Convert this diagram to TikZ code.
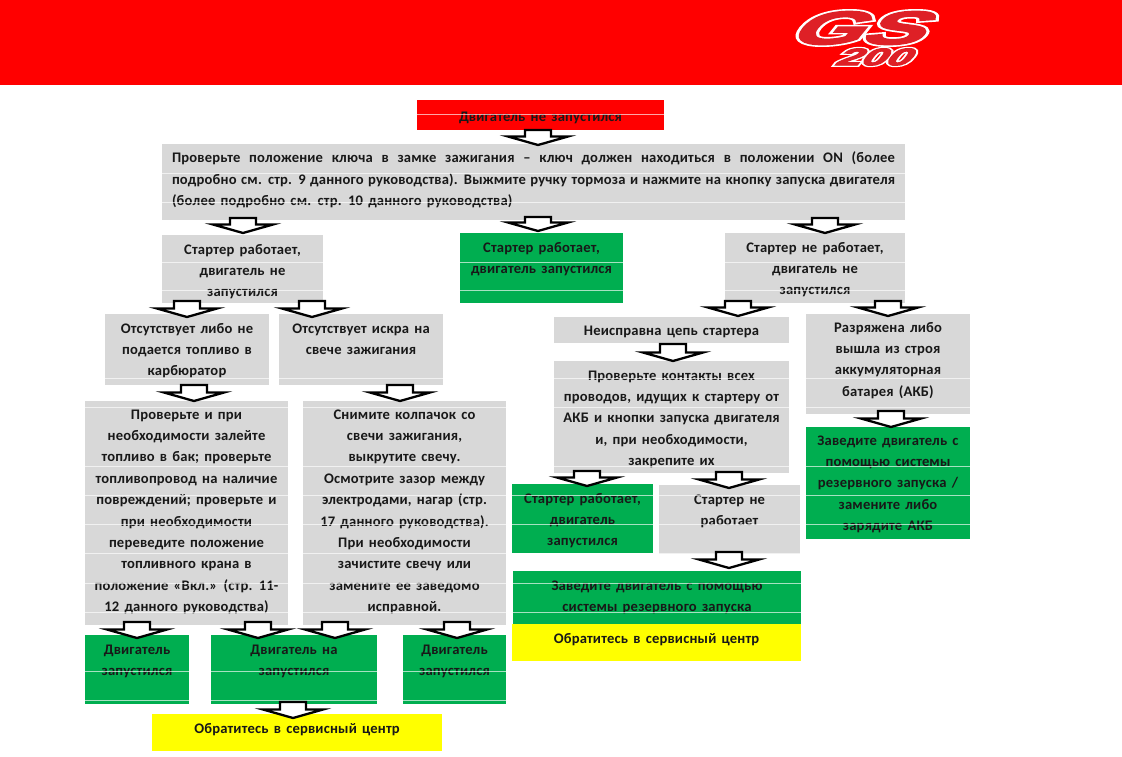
\documentclass[tikz,border=0pt]{standalone}
\usepackage{fontspec}
\usetikzlibrary{calc}
\setmainfont[LetterSpace=1.2,WordSpace=1.5]{Carlito}
\newfontfamily\logofont[FakeSlant=0.42,FakeBold=3]{Liberation Sans Bold}
\newfontfamily\logohalo[FakeSlant=0.42,FakeBold=10]{Liberation Sans Bold}
\newfontfamily\logofontb[FakeSlant=0.42,FakeBold=4]{Liberation Sans Bold}
\newfontfamily\logohalob[FakeSlant=0.42,FakeBold=14]{Liberation Sans Bold}
\definecolor{hdred}{HTML}{FF0000}
\definecolor{lgred}{HTML}{DE2026}
\definecolor{okgreen}{HTML}{00AE50}
\definecolor{cgray}{HTML}{D8D8D8}
\definecolor{cyell}{HTML}{FFFF00}
\definecolor{txt}{HTML}{181818}
\tikzset{
  boxnode/.style={anchor=north west,inner sep=0pt,outer sep=0pt,text=txt},
  blockarrow/.style={draw=black,fill=white,line width=2.3pt,miter limit=14},
  scanline/.style={white,line width=0.6pt,opacity=0.65},
  logotext/.style={inner sep=0pt}
}
\newcommand{\bx}[8][19]{%
  \pgfmathsetmacro{\bxw}{#5-#3}\pgfmathsetmacro{\bxh}{#6-#4}%
  \pgfmathsetmacro{\bxd}{#1-10}%
  \node[boxnode,fill=#7] (#2) at (#3,#4)
   {\parbox[c][\bxh pt][t]{\bxw pt}{\vspace*{\bxd pt}\centering\fontsize{14.6}{21.4}\selectfont\bfseries\rule{0pt}{10pt}#8\par}};}
\newcommand{\barrow}[5]{%
  \draw[blockarrow] let \p1=(#1.south),\p2=(#2.north) in
    ({(#3-13)*1pt},{\y1-(#4)*1pt}) -- ({(#3+13)*1pt},{\y1-(#4)*1pt})
    -- ({(#3+13)*1pt},{\y2-(#5-9.5)*1pt}) -- ({(#3+30)*1pt},{\y2-(#5-9.5)*1pt})
    -- ({#3*1pt},{\y2-(#5-1)*1pt})
    -- ({(#3-30)*1pt},{\y2-(#5-9.5)*1pt}) -- ({(#3-13)*1pt},{\y2-(#5-9.5)*1pt}) -- cycle;}
\begin{document}
\begin{tikzpicture}[x=1pt,y=-1pt]
\useasboundingbox (0,0) rectangle (1122,756);
\fill[white] (0,0) rectangle (1122,756);
\fill[hdred] (0,0) rectangle (1122,85);
\node[logotext,white,xscale=1.95] (gsh) at (853,28) {\logohalo\fontsize{47}{47}\selectfont GS};
\node[logotext,white,xscale=1.85] (zzh) at (871,57) {\logohalob\fontsize{24}{24}\selectfont 200};
\node[logotext,lgred,xscale=1.95] (gs) at (853,28) {\logofont\fontsize{47}{47}\selectfont GS};
\node[logotext,lgred,xscale=1.85] (zz) at (871,57) {\logofontb\fontsize{24}{24}\selectfont 200};

\bx[21]{start}{417}{100}{664}{130}{hdred}{Двигатель не запустился}
\bx[18]{check}{162}{144}{905}{220}{cgray}{%
  \makebox[723pt][s]{Проверьте положение ключа в замке зажигания – ключ должен находиться в положении ON (более}\\
  \makebox[723pt][s]{подробно см. стр. 9 данного руководства). Выжмите ручку тормоза и нажмите на кнопку запуска двигателя}\\
  \makebox[723pt][l]{(более подробно см. стр. 10 данного руководства)}}
\bx{runfail}{162}{235}{323}{303}{cgray}{Стартер работает,\\двигатель не\\запустился}
\bx{runok}{460}{233}{623}{303}{okgreen}{Стартер работает,\\двигатель запустился}
\bx{norun}{725}{233}{905}{303}{cgray}{Стартер не работает,\\двигатель не\\запустился}
\bx{nofuel}{105}{314}{269}{385}{cgray}{Отсутствует либо не\\подается топливо в\\карбюратор}
\bx{nospark}{279}{314}{443}{385}{cgray}{Отсутствует искра на\\свече зажигания}
\bx[18]{fuelfix}{85}{401}{288}{625}{cgray}{Проверьте и при\\необходимости залейте\\топливо в бак; проверьте\\топливопровод на наличие\\повреждений; проверьте и\\при необходимости\\переведите положение\\топливного крана в\\положение «Вкл.» (стр. 11-\\12 данного руководства)}
\bx[18]{sparkfix}{303}{401}{506}{625}{cgray}{Снимите колпачок со\\свечи зажигания,\\выкрутите свечу.\\Осмотрите зазор между\\электродами, нагар (стр.\\17 данного руководства).\\При необходимости\\зачистите свечу или\\замените ее заведомо\\исправной.}
\bx{okA}{85}{635}{189}{704}{okgreen}{Двигатель\\запустился}
\bx{failA}{211}{635}{377}{704}{okgreen}{Двигатель на\\запустился}
\bx{okB}{403}{635}{506}{704}{okgreen}{Двигатель\\запустился}
\bx{svcA}{152}{714}{442}{751}{cyell}{Обратитесь в сервисный центр}
\bx[18]{circuit}{554}{317}{789}{343}{cgray}{Неисправна цепь стартера}
\bx{contacts}{554}{361}{789}{473}{cgray}{Проверьте контакты всех\\проводов, идущих к стартеру от\\АКБ и кнопки запуска двигателя\\и, при необходимости,\\закрепите их}
\bx[18]{battery}{806}{314}{970}{414}{cgray}{Разряжена либо\\вышла из строя\\аккумуляторная\\батарея (АКБ)}
\bx[18]{reserveA}{806}{427}{970}{539}{okgreen}{Заведите двигатель с\\помощью системы\\резервного запуска /\\замените либо\\зарядите АКБ}
\bx{okC}{512}{484}{653}{553}{okgreen}{Стартер работает,\\двигатель\\запустился}
\bx{norunB}{659}{485}{800}{554}{cgray}{Стартер не\\работает}
\bx{reserveB}{513}{571}{801}{624}{okgreen}{Заведите двигатель с помощью\\системы резервного запуска}
\bx{svcB}{512}{624}{801}{661}{cyell}{Обратитесь в сервисный центр}

\foreach \yy in {114,173,202,262,290,378,407,466,495,524,553,583,612,671,700}
  \draw[scanline] (85,\yy) -- (970,\yy);

\barrow{start}{check}{538}{0}{2}
\barrow{check}{runfail}{243}{-2}{-1}
\barrow{check}{runok}{538}{-3}{-1}
\barrow{check}{norun}{825}{-2}{1}
\barrow{runfail}{nofuel}{187}{-2}{4}
\barrow{runfail}{nospark}{312}{-2}{4}
\barrow{nofuel}{fuelfix}{194}{0}{1}
\barrow{nospark}{sparkfix}{400}{0}{1}
\barrow{fuelfix}{okA}{137}{-3}{4}
\barrow{fuelfix}{failA}{258}{-3}{4}
\barrow{sparkfix}{failA}{335}{-3}{4}
\barrow{sparkfix}{okB}{457}{-3}{4}
\barrow{failA}{svcA}{293}{-2}{5}
\barrow{norun}{circuit}{738}{-2}{0}
\barrow{norun}{battery}{888}{-2}{3}
\barrow{circuit}{contacts}{673}{1}{1}
\barrow{battery}{reserveA}{891}{-3}{1}
\barrow{contacts}{okC}{587}{-2}{3}
\barrow{contacts}{norunB}{729}{-1}{4}
\barrow{norunB}{reserveB}{729}{-2}{-2}
\end{tikzpicture}
\end{document}
